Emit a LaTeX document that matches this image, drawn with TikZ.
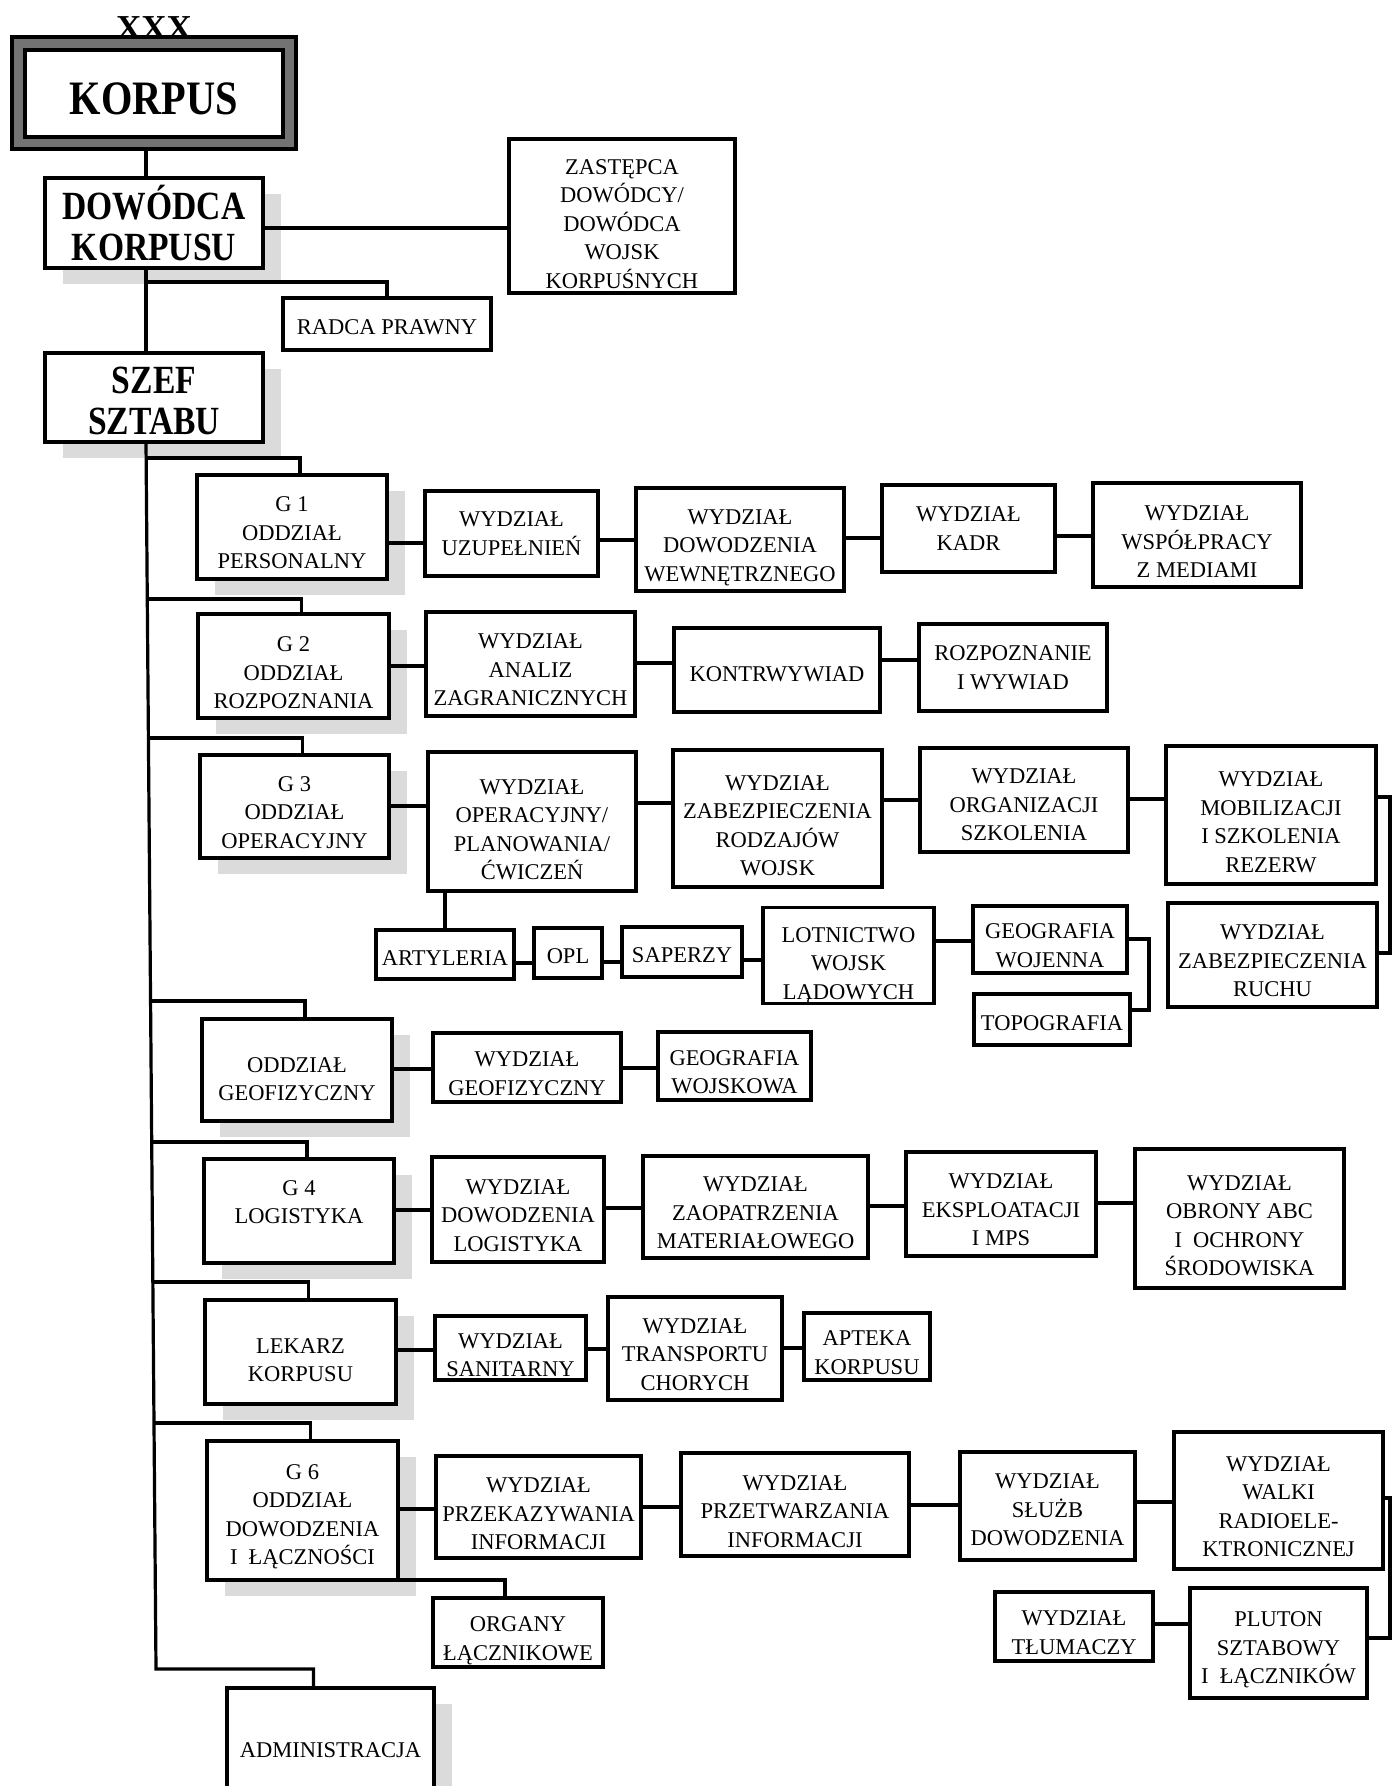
\documentclass[tikz,border=0pt]{standalone}
\usepackage{fontspec}
\setmainfont{Liberation Serif}
\newfontfamily\headfont[FakeStretch=0.84]{Liberation Serif Bold}
\newfontfamily\boldfont{Liberation Serif Bold}
\usetikzlibrary{backgrounds}

% a box given by its left, top, right and bottom edges
\newcommand\bx[5][]{\node[box,#1,minimum width={#4-#2},minimum height={#5-#3}] at ({(#2+#4)/2},{(#3+#5)/2})}
% horizontal link between two boxes of one row, at a given height
\newcommand\hlink[3]{\draw[link] (#1.east |- 0,#3) -- (#2.west |- 0,#3);}
% invisible strut on a first line, lowers the text block a little
\newcommand\up[1]{\rule{0pt}{#1pt}}

\begin{document}
\begin{tikzpicture}[x=1pt,y=-1pt,
  box/.style={draw,line width=3.2pt,fill=white,inner sep=0pt,outer sep=0pt,
    align=center,font=\fontsize{22.5}{28.5}\selectfont},
  headbox/.style={box,font=\headfont\fontsize{40}{41}\selectfont},
  link/.style={line width=3.2pt},
  shade/.style={fill=black!14}]

\useasboundingbox (0,0) rectangle (1392,1786);

% ---------- top of the chart ----------
\bx[fill=black!55]{12}{37}{296}{149} (frame) {};
\bx[headbox,font=\headfont\fontsize{48}{48}\selectfont]{25}{50}{283}{137} (korpus) {\up{42}KORPUS};
\node[font=\boldfont\fontsize{35}{35}\selectfont,anchor=base,inner sep=0pt] (xxx) at (154,39) {XXX};

\bx[headbox]{45}{178}{263}{268} (dow) {DOWÓDCA\\KORPUSU};
\bx{509}{139}{735}{293} (zas) {\up{31}ZASTĘPCA\\DOWÓDCY/\\DOWÓDCA\\WOJSK\\KORPUŚNYCH};
\bx{283}{298}{491}{350} (radca) {\up{22}RADCA PRAWNY};
\bx[headbox]{45}{353}{263}{442} (sz) {\up{33}SZEF\\SZTABU};

% ---------- G1 ----------
\bx{197}{475}{387}{579} (g1) {\up{27}G 1\\ODDZIAŁ\\PERSONALNY};
\bx{425}{491}{598}{576} (uz) {WYDZIAŁ\\UZUPEŁNIEŃ};
\bx{636}{488}{844}{591} (dw) {\up{31}WYDZIAŁ\\DOWODZENIA\\WEWNĘTRZNEGO};
\bx{882}{485}{1055}{572} (kadr) {WYDZIAŁ\\KADR};
\bx{1093}{483}{1301}{587} (wsp) {\up{29}WYDZIAŁ\\WSPÓŁPRACY\\Z MEDIAMI};

% ---------- G2 ----------
\bx{198}{614}{389}{718} (g2) {\up{29}G 2\\ODDZIAŁ\\ROZPOZNANIA};
\bx{426}{612}{635}{716} (an) {\up{27}WYDZIAŁ\\ANALIZ\\ZAGRANICZNYCH};
\bx{674}{628}{880}{712} (kon) {\up{24}KONTRWYWIAD};
\bx{919}{624}{1107}{711} (roz) {ROZPOZNANIE\\I WYWIAD};

% ---------- G3 ----------
\bx{200}{755}{389}{858} (g3) {\up{27}G 3\\ODDZIAŁ\\OPERACYJNY};
\bx{428}{752}{636}{891} (op) {\up{31}WYDZIAŁ\\OPERACYJNY/\\PLANOWANIA/\\ĆWICZEŃ};
\bx{673}{750}{882}{887} (zr) {\up{29}WYDZIAŁ\\ZABEZPIECZENIA\\RODZAJÓW\\WOJSK};
\bx{920}{748}{1128}{852} (org) {\up{25}WYDZIAŁ\\ORGANIZACJI\\SZKOLENIA};
\bx{1166}{746}{1376}{884} (mob) {\up{29}WYDZIAŁ\\MOBILIZACJI\\I SZKOLENIA\\REZERW};
\bx{1168}{903}{1377}{1007} (ruch) {\up{27}WYDZIAŁ\\ZABEZPIECZENIA\\RUCHU};
\bx{376}{930}{514}{979} (art) {\up{22}ARTYLERIA};
\bx{534}{928}{602}{978} (opl) {\up{22}OPL};
\bx{622}{927}{742}{977} (sap) {\up{22}SAPERZY};
\bx{763}{908}{934}{1003} (lot) {\up{35}LOTNICTWO\\WOJSK\\LĄDOWYCH};
\bx{973}{906}{1127}{973} (gw) {\up{27}GEOGRAFIA\\WOJENNA};
\bx{974}{994}{1130}{1045} (topo) {\up{22}TOPOGRAFIA};

% ---------- geophysics ----------
\bx{202}{1019}{392}{1121} (geof) {\up{33}ODDZIAŁ\\GEOFIZYCZNY};
\bx{433}{1033}{621}{1102} (wg) {\up{27}WYDZIAŁ\\GEOFIZYCZNY};
\bx{658}{1032}{811}{1100} (gwk) {\up{27}GEOGRAFIA\\WOJSKOWA};

% ---------- G4 ----------
\bx{204}{1159}{394}{1263} (g4) {G 4\\LOGISTYKA\rule[-18pt]{0pt}{18pt}};
\bx{432}{1157}{604}{1262} (dl) {\up{27}WYDZIAŁ\\DOWODZENIA\\LOGISTYKA};
\bx{643}{1156}{868}{1258} (zao) {\up{27}WYDZIAŁ\\ZAOPATRZENIA\\MATERIAŁOWEGO};
\bx{906}{1152}{1096}{1256} (eks) {\up{27}WYDZIAŁ\\EKSPLOATACJI\\I MPS};
\bx{1135}{1149}{1344}{1288} (obr) {\up{29}WYDZIAŁ\\OBRONY ABC\\I~~OCHRONY\\ŚRODOWISKA};

% ---------- medical ----------
\bx{205}{1300}{396}{1404} (lek) {\up{31}LEKARZ\\KORPUSU};
\bx{435}{1316}{586}{1380} (san) {\up{29}WYDZIAŁ\\SANITARNY};
\bx{608}{1297}{782}{1400} (tr) {\up{27}WYDZIAŁ\\TRANSPORTU\\CHORYCH};
\bx{804}{1313}{930}{1380} (apt) {\up{27}APTEKA\\KORPUSU};

% ---------- G6 ----------
\bx{207}{1441}{398}{1580} (g6) {\up{27}G 6\\ODDZIAŁ\\DOWODZENIA\\I~~ŁĄCZNOŚCI};
\bx{436}{1456}{641}{1558} (prk) {\up{29}WYDZIAŁ\\PRZEKAZYWANIA\\INFORMACJI};
\bx{681}{1453}{909}{1556} (prt) {\up{29}WYDZIAŁ\\PRZETWARZANIA\\INFORMACJI};
\bx{960}{1452}{1135}{1560} (sl) {\up{23}WYDZIAŁ\\SŁUŻB\\DOWODZENIA};
\bx{1174}{1432}{1383}{1569} (wal) {\up{27}WYDZIAŁ\\WALKI\\RADIOELE-\\KTRONICZNEJ};
\bx{995}{1592}{1153}{1661} (tl) {\up{27}WYDZIAŁ\\TŁUMACZY};
\bx{1190}{1588}{1367}{1698} (pl) {\up{29}PLUTON\\SZTABOWY\\I~~ŁĄCZNIKÓW};
\bx{433}{1598}{603}{1667} (organy) {\up{31}ORGANY\\ŁĄCZNIKOWE};

\bx{227}{1688}{434}{1812} (adm) {ADMINISTRACJA};

% ---------- connectors: command line ----------
\draw[link] ([xshift=-8pt]frame.south) -- ([xshift=-8pt]dow.north);
\draw[link] (dow.east |- 0,228) -- (zas.west |- 0,228);
\draw[link] ([xshift=-8pt]dow.south) -- ([xshift=-8pt]sz.north);
\coordinate (jr) at (146,282);
\draw[link] (jr) -| (radca.north);

% staff trunk and its branches
\coordinate (tend) at (156,1669);
\draw[link] ([xshift=-8pt]sz.south) -- (tend) -| ([xshift=-17pt]adm.north);
\coordinate (t1) at (146.1,458);
\coordinate (t2) at (147.3,599);
\coordinate (t3) at (148.4,738);
\coordinate (t4) at (150.6,1001);
\coordinate (t5) at (151.7,1142);
\coordinate (t6) at (152.9,1282);
\coordinate (t7) at (154.0,1423);
\draw[link] (t1) -| ([xshift=8pt]g1.north);
\draw[link] (t2) -| ([xshift=8pt]g2.north);
\draw[link] (t3) -| ([xshift=8pt]g3.north);
\draw[link] (t4) -| ([xshift=8pt]geof.north);
\draw[link] (t5) -| ([xshift=8pt]g4.north);
\draw[link] (t6) -| ([xshift=8pt]lek.north);
\draw[link] (t7) -| ([xshift=8pt]g6.north);

% rows
\hlink{g1}{uz}{543}\hlink{uz}{dw}{540}\hlink{dw}{kadr}{538}\hlink{kadr}{wsp}{536}
\hlink{g2}{an}{666}\hlink{an}{kon}{663}\hlink{kon}{roz}{660}
\hlink{g3}{op}{806}\hlink{op}{zr}{803}\hlink{zr}{org}{800}\hlink{org}{mob}{799}
\hlink{art}{opl}{963}\hlink{opl}{sap}{962}\hlink{sap}{lot}{960}\hlink{lot}{gw}{941}
\hlink{geof}{wg}{1069}\hlink{wg}{gwk}{1068}
\hlink{g4}{dl}{1210}\hlink{dl}{zao}{1208}\hlink{zao}{eks}{1206}\hlink{eks}{obr}{1203}
\hlink{lek}{san}{1350}\hlink{san}{tr}{1349}\hlink{tr}{apt}{1348}
\hlink{g6}{prk}{1509}\hlink{prk}{prt}{1507}\hlink{prt}{sl}{1505}\hlink{sl}{wal}{1502}
\hlink{tl}{pl}{1624}

\draw[link] (op.south -| art.north) -- (art.north);
\coordinate (gb) at (1149,1010);
\draw[link] (gw.east |- 0,939) -| (gb) -- (topo.east |- gb);

% brackets along the right edge
\coordinate (ra) at (1390,797);
\coordinate (rb) at (1390,953);
\draw[link] (mob.east |- ra) -- (ra) -- (rb) -- (ruch.east |- rb);
\coordinate (rc) at (1390,1498);
\coordinate (rd) at (1390,1638);
\draw[link] (wal.east |- rc) -- (rc) -- (rd) -- (pl.east |- rd);

\draw[link] (g6.south east) -| ([xshift=-13pt]organy.north);

% page and drop shadows
\begin{scope}[on background layer]
  \fill[white] (0,0) rectangle (1392,1786);
  \foreach \n in {dow,sz,g1,g2,g3,geof,g4,lek,g6,adm}
    \fill[shade] ([shift={(18,16)}]\n.south west) rectangle ([shift={(18,16)}]\n.north east);
\end{scope}
\end{tikzpicture}
\end{document}
